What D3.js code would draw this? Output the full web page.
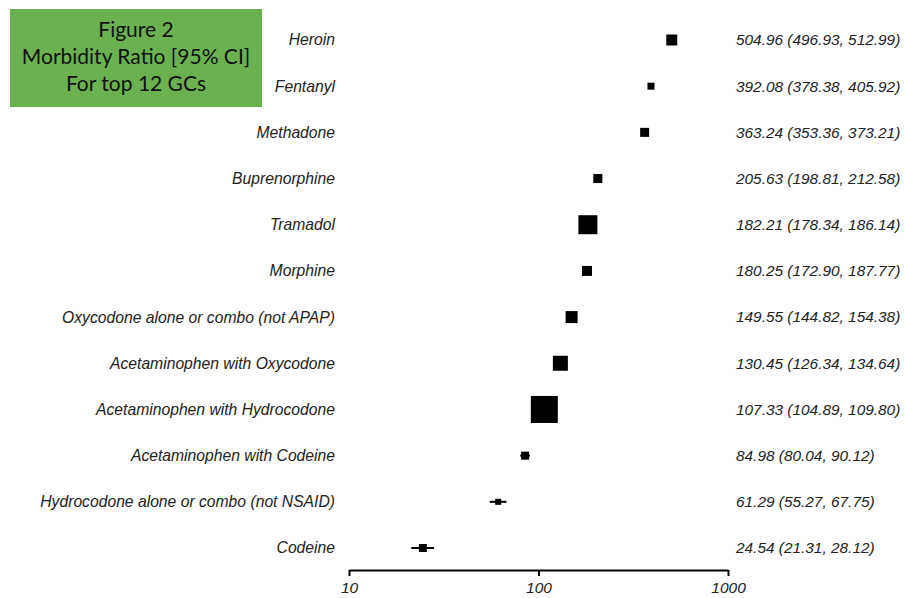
<!DOCTYPE html>
<html><head><meta charset="utf-8">
<script src="https://cdn.jsdelivr.net/npm/d3@7"></script>
<style>body{margin:0;background:#fff}svg{display:block}
.lab{font-family:"Liberation Sans",Arial,Helvetica,sans-serif;font-style:italic}
.ttl{font-family:Lato,"Open Sans",sans-serif}
</style>
</head><body>
<script>
const categories = ["Heroin","Fentanyl","Methadone","Buprenorphine","Tramadol","Morphine",
  "Oxycodone alone or combo (not APAP)","Acetaminophen with Oxycodone","Acetaminophen with Hydrocodone",
  "Acetaminophen with Codeine","Hydrocodone alone or combo (not NSAID)","Codeine"];
const estimates = [504.96,392.08,363.24,205.63,182.21,180.25,149.55,130.45,107.33,84.98,61.29,24.54];
const lower = [496.93,378.38,353.36,198.81,178.34,172.90,144.82,126.34,104.89,80.04,55.27,21.31];
const upper = [512.99,405.92,373.21,212.58,186.14,187.77,154.38,134.64,109.80,90.12,67.75,28.12];
const weights = [11,7,9,9,19,10,12,15,27,8,6,8];
const tickValues = [10,100,1000];
const titleLines = ["Figure 2","Morbidity Ratio [95% CI]","For top 12 GCs"];

const W=905,H=598;
const svg=d3.select("body").append("svg").attr("width",W).attr("height",H);
const x=d3.scaleLog().domain([10,1000]).range([349,728]);
const y=d3.scalePoint().domain(categories).range([40,548]);
const size=d3.scaleLinear().domain([0,27]).range([0,27]);
const fmt=d3.format(".2f");

svg.append("g").selectAll("line").data(categories).join("line")
  .attr("x1",(d,i)=>x(lower[i])).attr("x2",(d,i)=>x(upper[i]))
  .attr("y1",d=>y(d)).attr("y2",d=>y(d))
  .attr("stroke","#000").attr("stroke-width",2);
svg.append("g").selectAll("rect").data(categories).join("rect")
  .attr("x",(d,i)=>x(estimates[i])-size(weights[i])/2)
  .attr("y",(d,i)=>y(d)-size(weights[i])/2)
  .attr("width",(d,i)=>size(weights[i])).attr("height",(d,i)=>size(weights[i]))
  .attr("fill","#000");
svg.append("g").selectAll("text").data(categories).join("text").attr("class","lab")
  .attr("x",335).attr("y",d=>y(d)).attr("dy","0.35em").attr("text-anchor","end")
  .attr("font-size",15.7).attr("fill","#222")
  .text(d=>d);
svg.append("g").selectAll("text").data(categories).join("text").attr("class","lab")
  .attr("x",736).attr("y",d=>y(d)).attr("dy","0.35em")
  .attr("font-size",15.4).attr("fill","#222")
  .text((d,i)=>`${fmt(estimates[i])} (${fmt(lower[i])}, ${fmt(upper[i])})`);
const ax=svg.append("g").attr("transform","translate(0,570)")
  .call(d3.axisBottom(x).tickValues(tickValues).tickFormat(d3.format("d")).tickSize(6).tickSizeOuter(0));
ax.attr("font-family",null).attr("font-size",null);
ax.select(".domain").attr("stroke-width",2);
ax.selectAll(".tick line").attr("stroke-width",2);
ax.selectAll(".tick text").attr("class","lab").attr("font-size",15.5).attr("fill","#222").attr("y",12).attr("dy","0.71em");
svg.append("rect").attr("x",10).attr("y",9).attr("width",252).attr("height",98).attr("fill","#6ab150");
svg.append("g").selectAll("text").data(titleLines).join("text").attr("class","ttl")
  .attr("x",136).attr("y",(d,i)=>30+i*27).attr("dy","0.35em").attr("text-anchor","middle")
  .attr("font-size",21).attr("fill","#111")
  .text(d=>d);
</script>
</body></html>
